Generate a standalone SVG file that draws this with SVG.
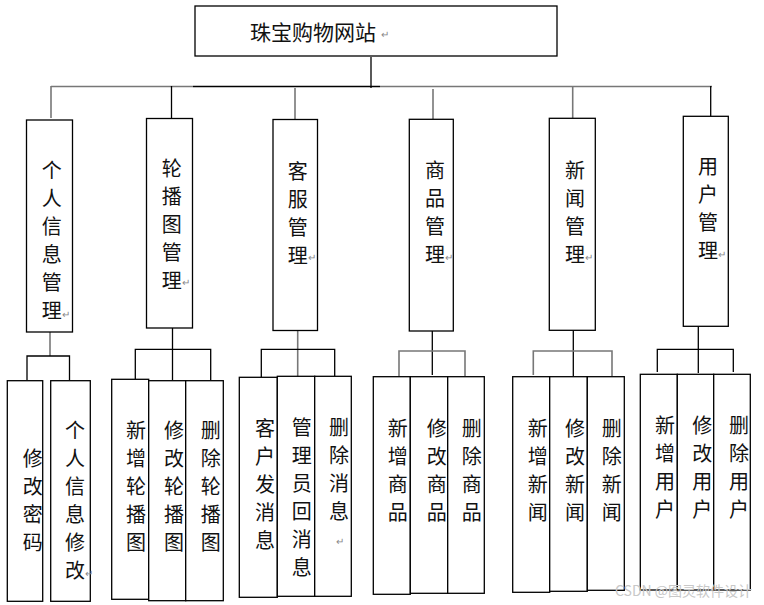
<svg xmlns="http://www.w3.org/2000/svg" width="764" height="605" viewBox="0 0 764 605">
<style>
rect{fill:#fff;stroke:#000;stroke-width:1.3}
text{font-family:"Noto Sans CJK SC","Noto Sans",sans-serif;font-size:20px;fill:#111}
.v{text-anchor:middle}
.r{font-size:10px;fill:#888}
.k{stroke:#000;stroke-width:1.3;fill:none}
.g{stroke:#777;stroke-width:1.6;fill:none}
.wm{font-size:14px;fill:#c8c8c8}
</style>
<g id="connectors">
<line class="k" x1="371" y1="57" x2="371" y2="88"/>
<line class="g" x1="51" y1="86.5" x2="193" y2="86.5"/>
<line class="k" x1="193" y1="86.5" x2="380" y2="86.5"/>
<line class="g" x1="380" y1="86.5" x2="712" y2="86.5"/>
<line class="g" x1="51" y1="86" x2="51" y2="118"/>
<line class="k" x1="171.5" y1="86" x2="171.5" y2="118"/>
<line class="g" x1="295" y1="88" x2="295" y2="119"/>
<line class="g" x1="433" y1="89" x2="433" y2="119"/>
<line class="g" x1="572.7" y1="86" x2="572.7" y2="118"/>
<line class="k" x1="710.7" y1="86" x2="710.7" y2="116"/>
<!-- group 1 -->
<line class="g" x1="50" y1="332" x2="50" y2="356"/>
<polyline class="k" points="27,380 27,356 69.5,356 69.5,380"/>
<!-- group 2 -->
<line class="k" x1="172.5" y1="328" x2="172.5" y2="380"/>
<polyline class="k" points="135.3,379 135.3,349.3 210.7,349.3 210.7,380"/>
<!-- group 3 -->
<line class="g" x1="297.7" y1="330.5" x2="297.7" y2="376"/>
<polyline class="k" points="261.3,377 261.3,349.3 334.7,349.3 334.7,376"/>
<!-- group 4 -->
<line class="k" x1="432.3" y1="331" x2="432.3" y2="375"/>
<polyline class="g" points="399,376 399,351 465,351 465,376"/>
<!-- group 5 -->
<line class="k" x1="573.3" y1="330.3" x2="573.3" y2="376"/>
<polyline class="g" points="533.3,375 533.3,351 612,351 612,376"/>
<!-- group 6 -->
<line class="k" x1="698.3" y1="326.3" x2="698.3" y2="373"/>
<polyline class="k" points="657.3,372 657.3,349.3 733.3,349.3 733.3,372"/>
</g>

<g id="root">
<rect x="195" y="6" width="362" height="50"/>
<text x="250" y="39.5" style="font-size:21px">珠宝购物网站</text>
<text class="r" x="381" y="38">↵</text>
</g>

<g id="n-personal">
<rect x="26.5" y="120" width="46" height="212"/>
<text class="v" x="51.7" y="177.5"><tspan x="51.7">个</tspan><tspan x="51.7" dy="28">人</tspan><tspan x="51.7" dy="28">信</tspan><tspan x="51.7" dy="28">息</tspan><tspan x="51.7" dy="28">管</tspan><tspan x="51.7" dy="28">理</tspan></text>
<text class="r" x="62" y="318">↵</text>
</g>
<g id="n-carousel">
<rect x="146.5" y="118.5" width="46" height="209.5"/>
<text class="v" x="171.7" y="175.5"><tspan x="171.7">轮</tspan><tspan x="171.7" dy="28">播</tspan><tspan x="171.7" dy="28">图</tspan><tspan x="171.7" dy="28">管</tspan><tspan x="171.7" dy="28">理</tspan></text>
<text class="r" x="182" y="286">↵</text>
</g>
<g id="n-service">
<rect x="273" y="119.5" width="44.5" height="211"/>
<text class="v" x="297.7" y="179"><tspan x="297.7">客</tspan><tspan x="297.7" dy="28">服</tspan><tspan x="297.7" dy="28">管</tspan><tspan x="297.7" dy="28">理</tspan></text>
<text class="r" x="308" y="261">↵</text>
</g>
<g id="n-goods">
<rect x="409.3" y="119.3" width="44" height="211.7"/>
<text class="v" x="435" y="177.5"><tspan x="435">商</tspan><tspan x="435" dy="28">品</tspan><tspan x="435" dy="28">管</tspan><tspan x="435" dy="28">理</tspan></text>
<text class="r" x="445" y="261">↵</text>
</g>
<g id="n-news">
<rect x="549.3" y="118.3" width="46" height="212"/>
<text class="v" x="575" y="177.5"><tspan x="575">新</tspan><tspan x="575" dy="28">闻</tspan><tspan x="575" dy="28">管</tspan><tspan x="575" dy="28">理</tspan></text>
<text class="r" x="585" y="261">↵</text>
</g>
<g id="n-user">
<rect x="683.3" y="116.3" width="45" height="210"/>
<text class="v" x="708" y="174"><tspan x="708">用</tspan><tspan x="708" dy="28">户</tspan><tspan x="708" dy="28">管</tspan><tspan x="708" dy="28">理</tspan></text>
<text class="r" x="718" y="258">↵</text>
</g>

<g id="n-pwd">
<rect x="7.3" y="380.7" width="35.4" height="220.6"/>
<text class="v" x="32.7" y="465.5"><tspan x="32.7">修</tspan><tspan x="32.7" dy="28">改</tspan><tspan x="32.7" dy="28">密</tspan><tspan x="32.7" dy="28">码</tspan></text>
</g>
<g id="n-info-edit">
<rect x="50.7" y="380.7" width="39.6" height="220.6"/>
<text class="v" x="75" y="437.5"><tspan x="75">个</tspan><tspan x="75" dy="28">人</tspan><tspan x="75" dy="28">信</tspan><tspan x="75" dy="28">息</tspan><tspan x="75" dy="28">修</tspan><tspan x="75" dy="28">改</tspan></text>
<text class="r" x="85" y="577">↵</text>
</g>

<g id="n-carousel-add">
<rect x="111.7" y="379.3" width="37" height="220"/>
<text class="v" x="136" y="437.5"><tspan x="136">新</tspan><tspan x="136" dy="28">增</tspan><tspan x="136" dy="28">轮</tspan><tspan x="136" dy="28">播</tspan><tspan x="136" dy="28">图</tspan></text>
</g>
<g id="n-carousel-edit">
<rect x="148.7" y="380.7" width="37" height="220"/>
<text class="v" x="174" y="437.5"><tspan x="174">修</tspan><tspan x="174" dy="28">改</tspan><tspan x="174" dy="28">轮</tspan><tspan x="174" dy="28">播</tspan><tspan x="174" dy="28">图</tspan></text>
</g>
<g id="n-carousel-del">
<rect x="185.7" y="380.7" width="37.6" height="220"/>
<text class="v" x="210.7" y="437.5"><tspan x="210.7">删</tspan><tspan x="210.7" dy="28">除</tspan><tspan x="210.7" dy="28">轮</tspan><tspan x="210.7" dy="28">播</tspan><tspan x="210.7" dy="28">图</tspan></text>
</g>

<g id="n-msg-send">
<rect x="239.3" y="377.3" width="38" height="220"/>
<text class="v" x="265" y="435.5"><tspan x="265">客</tspan><tspan x="265" dy="28">户</tspan><tspan x="265" dy="28">发</tspan><tspan x="265" dy="28">消</tspan><tspan x="265" dy="28">息</tspan></text>
</g>
<g id="n-msg-reply">
<rect x="277.3" y="376.3" width="37.4" height="220"/>
<text class="v" x="301.7" y="434.5"><tspan x="301.7">管</tspan><tspan x="301.7" dy="28">理</tspan><tspan x="301.7" dy="28">员</tspan><tspan x="301.7" dy="28">回</tspan><tspan x="301.7" dy="28">消</tspan><tspan x="301.7" dy="28">息</tspan></text>
</g>
<g id="n-msg-del">
<rect x="314.7" y="376.3" width="36.6" height="220"/>
<text class="v" x="339" y="434.5"><tspan x="339">删</tspan><tspan x="339" dy="28">除</tspan><tspan x="339" dy="28">消</tspan><tspan x="339" dy="28">息</tspan></text>
<text class="r" x="336" y="545">↵</text>
</g>

<g id="n-goods-add">
<rect x="373.3" y="376.7" width="37" height="217.6"/>
<text class="v" x="397.7" y="435.5"><tspan x="397.7">新</tspan><tspan x="397.7" dy="28">增</tspan><tspan x="397.7" dy="28">商</tspan><tspan x="397.7" dy="28">品</tspan></text>
</g>
<g id="n-goods-edit">
<rect x="410.3" y="376.7" width="37.4" height="216.6"/>
<text class="v" x="436.7" y="435.5"><tspan x="436.7">修</tspan><tspan x="436.7" dy="28">改</tspan><tspan x="436.7" dy="28">商</tspan><tspan x="436.7" dy="28">品</tspan></text>
</g>
<g id="n-goods-del">
<rect x="447.7" y="376.7" width="36.6" height="216.6"/>
<text class="v" x="471.7" y="435.5"><tspan x="471.7">删</tspan><tspan x="471.7" dy="28">除</tspan><tspan x="471.7" dy="28">商</tspan><tspan x="471.7" dy="28">品</tspan></text>
</g>

<g id="n-news-add">
<rect x="512.7" y="376.7" width="37" height="215.6"/>
<text class="v" x="537.7" y="435.5"><tspan x="537.7">新</tspan><tspan x="537.7" dy="28">增</tspan><tspan x="537.7" dy="28">新</tspan><tspan x="537.7" dy="28">闻</tspan></text>
</g>
<g id="n-news-edit">
<rect x="549.7" y="376.7" width="37.6" height="214.6"/>
<text class="v" x="575" y="435.5"><tspan x="575">修</tspan><tspan x="575" dy="28">改</tspan><tspan x="575" dy="28">新</tspan><tspan x="575" dy="28">闻</tspan></text>
</g>
<g id="n-news-del">
<rect x="587.3" y="376.7" width="37" height="213.6"/>
<text class="v" x="611.7" y="435.5"><tspan x="611.7">删</tspan><tspan x="611.7" dy="28">除</tspan><tspan x="611.7" dy="28">新</tspan><tspan x="611.7" dy="28">闻</tspan></text>
</g>

<g id="n-user-add">
<rect x="640.3" y="374.3" width="37" height="215.7"/>
<text class="v" x="665" y="432.5"><tspan x="665">新</tspan><tspan x="665" dy="28">增</tspan><tspan x="665" dy="28">用</tspan><tspan x="665" dy="28">户</tspan></text>
</g>
<g id="n-user-edit">
<rect x="677.3" y="374.3" width="36.4" height="215.7"/>
<text class="v" x="702.3" y="432.5"><tspan x="702.3">修</tspan><tspan x="702.3" dy="28">改</tspan><tspan x="702.3" dy="28">用</tspan><tspan x="702.3" dy="28">户</tspan></text>
</g>
<g id="n-user-del">
<rect x="713.7" y="374.3" width="36.6" height="215.7"/>
<text class="v" x="739" y="432.5"><tspan x="739">删</tspan><tspan x="739" dy="28">除</tspan><tspan x="739" dy="28">用</tspan><tspan x="739" dy="28">户</tspan></text>
</g>

<text class="wm" x="615" y="596">CSDN @图灵软件设计</text>
</svg>
